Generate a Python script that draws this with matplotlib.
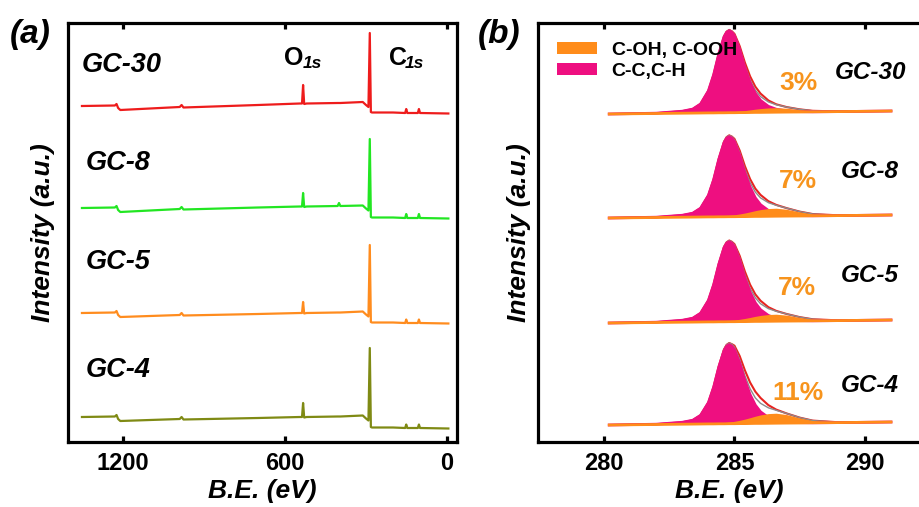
import numpy as np
import matplotlib
matplotlib.use("Agg")
import matplotlib.pyplot as plt
from matplotlib.patches import Patch

plt.rcParams['font.family'] = ['Liberation Sans', 'DejaVu Sans']

# ---------------- data: panel (a) survey spectra ----------------
samples = ["GC-30", "GC-8", "GC-5", "GC-4"]
survey_colors = ["#ee1c1c", "#22e622", "#ff8c1e", "#7f8a14"]
E_a = [1352, 1230, 1224, 1218, 1210, 1100, 990, 983, 976, 700, 545, 537, 533, 529,
       520, 405, 400, 395, 312, 300, 291, 286, 282, 278, 200, 155, 151, 147, 108,
       104, 100, -5]
I_gc30 = [336, 336.5, 338, 334, 332, 333.5, 335, 337, 334.5, 337, 338.5, 338.5, 357, 338,
          338.5, 339, 339, 339, 340, 337, 335, 409, 330, 329.5, 329.5, 329, 333, 329, 329,
          333, 329, 328.5]
I_gc8 = [234, 234.5, 236, 232, 230, 231.5, 233, 235, 232.5, 234.5, 235.5, 235.5, 249, 235,
         235.5, 236, 239, 236, 236.5, 233.5, 231.5, 303, 225, 224.5, 224.5, 224, 228, 224,
         224, 228, 224, 223.5]
I_gc5 = [129, 129.5, 131, 127, 125, 126, 127, 129, 126.5, 128, 129, 129, 140, 128.5,
         129, 129.5, 129.5, 129.5, 130.5, 127.5, 125.5, 197, 120, 119.5, 119.5, 119, 122.5,
         119, 119, 122.5, 119, 118.5]
I_gc4 = [25, 25.5, 27, 23, 21, 22, 23, 25, 22.5, 24, 25, 25, 39, 24.5,
         25, 25.5, 25.5, 25.5, 26.5, 23.5, 21.5, 94, 15, 14.5, 14.5, 14, 17.5,
         14, 14, 17.5, 14, 13.5]
survey = [I_gc30, I_gc8, I_gc5, I_gc4]
xticks_a = [1200, 600, 0]

# ---------------- data: panel (b) C1s high resolution ----------------
E_b = [280.2, 282.0, 283.0, 283.4, 283.7, 284.0, 284.2, 284.4, 284.6, 284.7, 284.8,
       284.9, 285.0, 285.2, 285.4, 285.6, 285.8, 286.0, 286.3, 286.6, 287.0, 287.5,
       288.0, 289.0, 291.0]
bkg_level = [328, 224, 119, 17]          # baseline level at the low-BE end
bkg_tilt = [0, 0.5, 0.8, 0.9, 1.0, 1.1, 1.1, 1.2, 1.2, 1.25, 1.3, 1.3, 1.3, 1.4, 1.4,
            1.5, 1.6, 1.6, 1.7, 1.8, 1.9, 2.0, 2.2, 2.4, 3.0]
cc_shape = [0, 0.3, 2, 4, 9, 22, 38, 59, 76, 80.5, 82, 80.5, 77, 63, 45, 30, 19, 12,
            6, 3, 1.2, 0.4, 0, 0, 0]
cc_height = [82, 80, 80, 79]
coh_shape = [0, 0, 0, 0, 0.01, 0.03, 0.05, 0.08, 0.12, 0.14, 0.17, 0.20, 0.24, 0.33,
             0.45, 0.58, 0.72, 0.85, 0.97, 1.0, 0.85, 0.5, 0.22, 0.03, 0]
coh_height = [4.5, 8, 7, 10]
resid_shape = [0, 0, 0, 0, 0, 0, 0, 0, 0, 0, 0, 0, 0.8, 2, 3, 3.5, 3.5, 3, 1.5, 0.4,
               0, 0, 0, 0, 0]
resid_scale = [1.0, 1.0, 1.0, 1.8]
percent_labels = ["3%", "7%", "7%", "11%"]
xticks_b = [280, 285, 290]

PINK = "#ee0f80"
ORANGE = "#ff8c1a"
PCT_ORANGE = "#f7941d"

W, H = 920, 507
fig = plt.figure(figsize=(W / 100, H / 100), dpi=100)


def px_axes(l, t, r, b):
    return fig.add_axes([l / W, 1 - b / H, (r - l) / W, (b - t) / H])


def ftext(x, y, s, **kw):
    fig.text(x / W, 1 - y / H, s, **kw)


ax1 = px_axes(68, 23, 457, 442)
ax2 = px_axes(538, 23, 921, 442)

for ax in (ax1, ax2):
    for sp in ax.spines.values():
        sp.set_linewidth(2.3)
    ax.tick_params(axis='x', which='both', direction='in', length=4, width=2.3,
                   top=True, bottom=True, pad=7, labelsize=17)
    ax.tick_params(axis='y', left=False, right=False, labelleft=False)
    ax.set_ylim(0, 419)

# panel (a)
for I, c in zip(survey, survey_colors):
    ax1.plot(E_a, I, color=c, lw=1.6, solid_joinstyle='round')
ax1.set_xlim(1403.7, -37)
ax1.set_xticks(xticks_a)
ax1.set_xticklabels([str(v) for v in xticks_a], fontweight='bold', fontsize=17)
ax1.set_xlabel("B.E. (eV)", fontsize=19, fontweight='bold', fontstyle='italic', labelpad=3)
ax1.set_ylabel("Intensity (a.u.)", fontsize=19, fontweight='bold', fontstyle='italic',
               labelpad=9)

# panel (b)
E_arr = np.array(E_b)
tilt = np.array(bkg_tilt)
ccs = np.array(cc_shape)
cohs = np.array(coh_shape)
res = np.array(resid_shape)
for i in range(4):
    bkg = bkg_level[i] + tilt
    cc = ccs / 82.0 * cc_height[i]
    coh = cohs * coh_height[i]
    env = bkg + cc + coh
    data = env + res * resid_scale[i]
    ax2.plot(E_arr, data, color="#e8231f", lw=1.5, zorder=1)
    ax2.plot(E_arr, env, color="#8c8c8c", lw=1.0, zorder=2)
    ax2.fill_between(E_arr, bkg, bkg + cc, color=PINK, lw=0, zorder=3)
    ax2.plot(E_arr, bkg + cc, color=PINK, lw=2.0, zorder=3)
    ax2.fill_between(E_arr, bkg, bkg + coh, color=ORANGE, lw=0, zorder=4)
    ax2.plot(E_arr, bkg, color=ORANGE, lw=2.0, zorder=5)

ax2.set_xlim(277.47, 292.15)
ax2.set_xticks(xticks_b)
ax2.set_xticklabels([str(v) for v in xticks_b], fontweight='bold', fontsize=17)
ax2.set_xlabel("B.E. (eV)", fontsize=19, fontweight='bold', fontstyle='italic', labelpad=3)
ax2.set_ylabel("Intensity (a.u.)", fontsize=19, fontweight='bold', fontstyle='italic',
               labelpad=5)

handles = [Patch(facecolor=ORANGE, edgecolor='none', label="C-OH, C-OOH"),
           Patch(facecolor=PINK, edgecolor='none', label="C-C,C-H")]
ax2.legend(handles=handles, loc='upper left', bbox_to_anchor=(0.05, 0.955),
           frameon=False, prop={'weight': 'bold', 'size': 14}, handlelength=2.05,
           handleheight=0.57, handletextpad=0.75, labelspacing=0.2, borderpad=0,
           borderaxespad=0)

# text labels
bi = dict(fontweight='bold', fontstyle='italic')
ftext(10, 34, "(a)", fontsize=24, va='center', ha='left', **bi)
ftext(478, 34, "(b)", fontsize=24, va='center', ha='left', **bi)

ftext(82, 65, "GC-30", fontsize=19.5, va='center', ha='left', **bi)
ftext(86, 163, "GC-8", fontsize=19.5, va='center', ha='left', **bi)
ftext(86, 262, "GC-5", fontsize=19.5, va='center', ha='left', **bi)
ftext(86, 370, "GC-4", fontsize=19.5, va='center', ha='left', **bi)

ftext(284, 65, "O", fontsize=18, fontweight='bold', va='baseline', ha='left')
ftext(303, 68, "1s", fontsize=12.5, va='baseline', ha='left', **bi)
ftext(389, 65, "C", fontsize=18, fontweight='bold', va='baseline', ha='left')
ftext(405, 68, "1s", fontsize=12.5, va='baseline', ha='left', **bi)

b_label_x = [835, 841, 841, 841]
b_label_y = [72, 172, 275, 386]
pct_y = [83, 181, 288, 393]
pct_x = [798, 798, 797, 798]
for i in range(4):
    ftext(b_label_x[i], b_label_y[i], samples[i], fontsize=17.5, va='center',
          ha='left', **bi)
    ftext(pct_x[i], pct_y[i], percent_labels[i], fontsize=19, fontweight='bold',
          color=PCT_ORANGE, va='center', ha='center')

fig.savefig("out.png", dpi=100)
